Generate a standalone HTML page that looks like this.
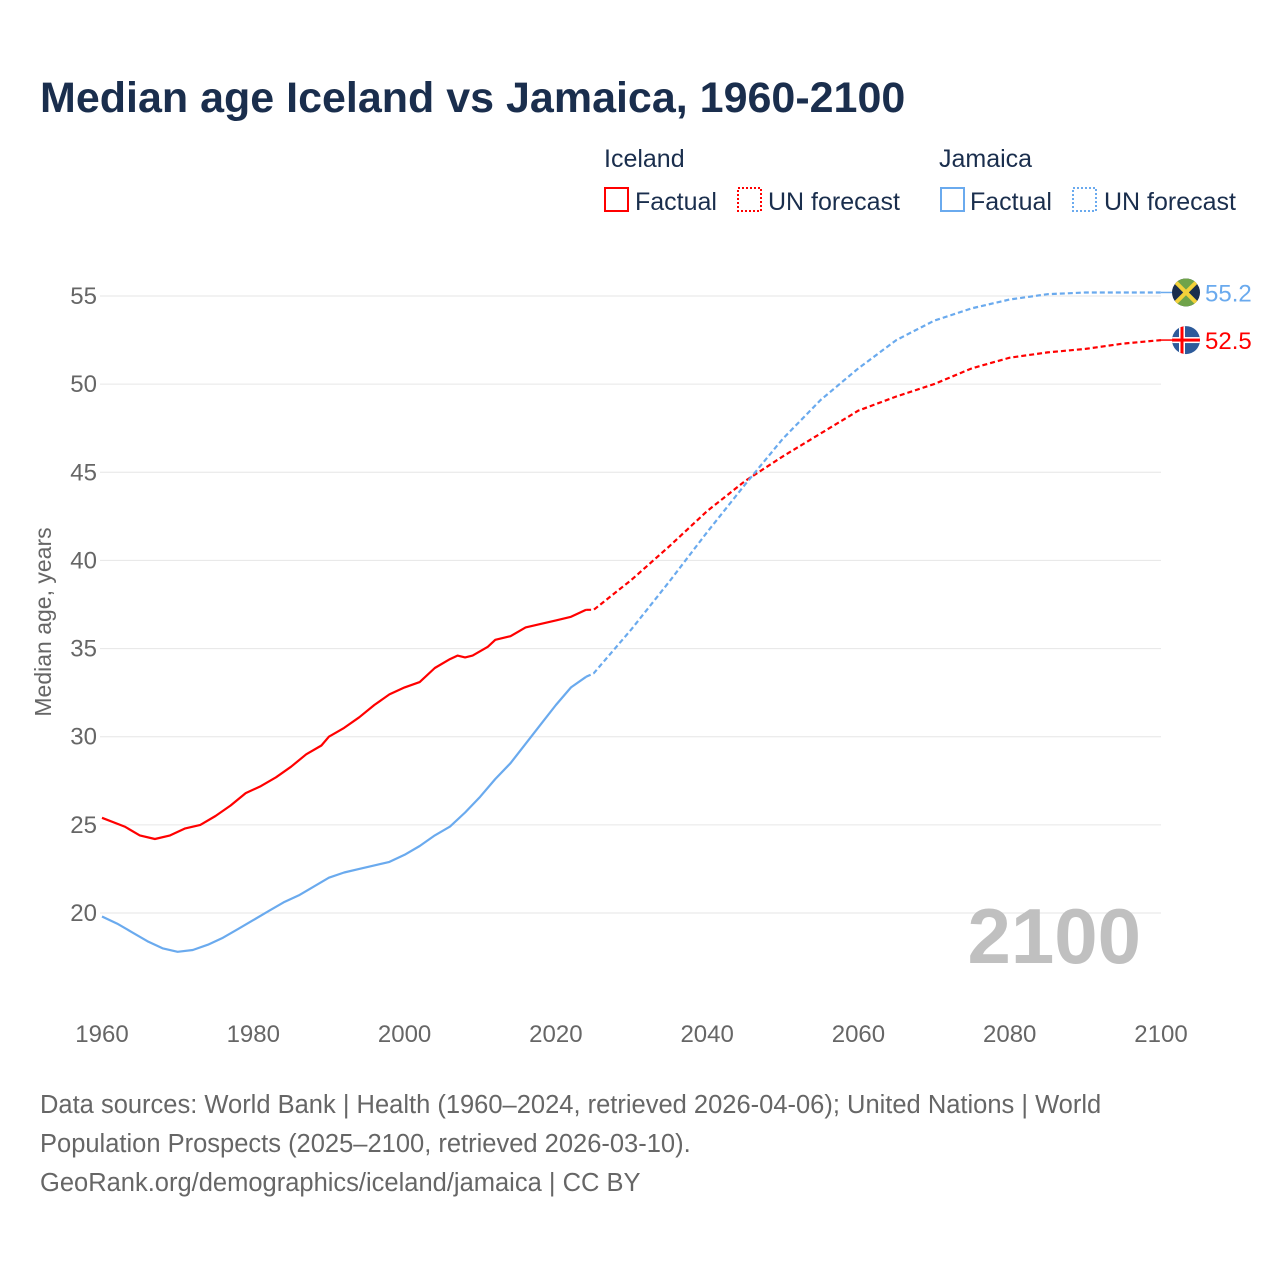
<!DOCTYPE html>
<html><head><meta charset="utf-8"><style>
body{margin:0;background:#fff;font-family:"Liberation Sans",sans-serif;}
#wrap{position:relative;width:1280px;height:1280px;overflow:hidden;}
</style></head><body>
<div id="wrap">
<svg id="svg" width="1280" height="1280" xmlns="http://www.w3.org/2000/svg">
<text x="40" y="112" font-size="43" font-weight="bold" fill="#1a2e4d">Median age Iceland vs Jamaica, 1960-2100</text>
<g font-size="25" fill="#1a2e4d">
<text x="604" y="167">Iceland</text>
<text x="939" y="167">Jamaica</text>
<g><rect x="605" y="188" width="23" height="23" fill="none" stroke="#ff0000" stroke-width="2"/><text x="635" y="210">Factual</text></g>
<g><rect x="738" y="188" width="23" height="23" fill="none" stroke="#ff0000" stroke-width="2" stroke-dasharray="2,2"/><text x="768" y="210">UN forecast</text></g>
<g><rect x="941" y="188" width="23" height="23" fill="none" stroke="#6aaaee" stroke-width="2"/><text x="970" y="210">Factual</text></g>
<g><rect x="1073" y="188" width="23" height="23" fill="none" stroke="#6aaaee" stroke-width="2" stroke-dasharray="2,2"/><text x="1104" y="210">UN forecast</text></g>
</g>
<g id="grid"></g><g id="lines"></g>
<text x="1141" y="963" font-size="78" font-weight="bold" fill="#c0c0c0" text-anchor="end">2100</text>
<text transform="translate(51,622) rotate(-90)" font-size="23" fill="#666" text-anchor="middle">Median age, years</text>
<g font-size="25.5" fill="#666">
<text x="40" y="1113">Data sources: World Bank | Health (1960–2024, retrieved 2026-04-06); United Nations | World</text>
<text x="40" y="1152">Population Prospects (2025–2100, retrieved 2026-03-10).</text>
<text x="40" y="1191">GeoRank.org/demographics/iceland/jamaica | CC BY</text>
</g>
</svg>
<script>
const yTicks=[20,25,30,35,40,45,50,55];
const xTicks=[1960,1980,2000,2020,2040,2060,2080,2100];
const iceFactYears=[1960,1963,1965,1967,1969,1971,1973,1975,1977,1979,1981,1983,1985,1987,1989,1990,1992,1994,1996,1998,2000,2002,2004,2006,2007,2008,2009,2011,2012,2014,2016,2018,2020,2022,2024];
const iceFactVals=[25.4,24.9,24.4,24.2,24.4,24.8,25.0,25.5,26.1,26.8,27.2,27.7,28.3,29.0,29.5,30.0,30.5,31.1,31.8,32.4,32.8,33.1,33.9,34.4,34.6,34.5,34.6,35.1,35.5,35.7,36.2,36.4,36.6,36.8,37.2];
const iceFcYears=[2024,2025,2030,2035,2040,2045,2050,2055,2060,2065,2070,2075,2080,2085,2090,2095,2100];
const iceFcVals=[37.2,37.2,38.9,40.8,42.8,44.5,45.9,47.2,48.5,49.3,50.0,50.9,51.5,51.8,52.0,52.3,52.5];
const jamFactYears=[1960,1962,1964,1966,1968,1970,1972,1974,1976,1978,1980,1982,1984,1986,1988,1990,1992,1994,1996,1998,2000,2002,2004,2006,2008,2010,2012,2014,2016,2018,2020,2022,2024];
const jamFactVals=[19.8,19.4,18.9,18.4,18.0,17.8,17.9,18.2,18.6,19.1,19.6,20.1,20.6,21.0,21.5,22.0,22.3,22.5,22.7,22.9,23.3,23.8,24.4,24.9,25.7,26.6,27.6,28.5,29.6,30.7,31.8,32.8,33.4];
const jamFcYears=[2024,2025,2030,2035,2040,2045,2050,2055,2060,2065,2070,2075,2080,2085,2090,2100];
const jamFcVals=[33.4,33.6,36.1,38.8,41.6,44.3,46.9,49.1,50.9,52.5,53.6,54.3,54.8,55.1,55.2,55.2];
const NS="http://www.w3.org/2000/svg";
const xS=y=>102+(y-1960)*(1059/140);
const yS=v=>913-(v-20)*(617/35);
const grid=document.getElementById('grid'),lines=document.getElementById('lines');
function mk(t,a,p){const e=document.createElementNS(NS,t);for(const k in a)e.setAttribute(k,a[k]);p.appendChild(e);return e;}
yTicks.forEach(v=>{
 const l=mk('line',{x1:100,x2:1161,y1:yS(v),y2:yS(v),stroke:'#e6e6e6','stroke-width':1},grid);
 
 
 const t=mk('text',{x:97,y:yS(v)+8,'text-anchor':'end','font-size':24,fill:'#666'},grid);t.textContent=v;
 
 
});
xTicks.forEach(v=>{
 const t=mk('text',{x:xS(v),y:1042,'text-anchor':'middle','font-size':24,fill:'#666'},grid);t.textContent=v;
 
 
});
function path(xs,vs,col,dash,name){
 const d=xs.map((x,i)=>(i?'L':'M')+xS(x).toFixed(1)+','+yS(vs[i]).toFixed(1)).join('');
 const p=mk('path',{d:d,fill:'none',stroke:col,'stroke-width':2.2,'stroke-linejoin':'round'},lines);
 if(dash)p.setAttribute('stroke-dasharray','5,3');
 
 
}
path(iceFactYears,iceFactVals,'#ff0000',false,'iceland-factual-line');
path(iceFcYears,iceFcVals,'#ff0000',true,'iceland-forecast-line');
path(jamFactYears,jamFactVals,'#6aaaee',false,'jamaica-factual-line');
path(jamFcYears,jamFcVals,'#6aaaee',true,'jamaica-forecast-line');
function endLbl(vs,col,name,flag){
 const v=vs[vs.length-1],y=yS(v);
 mk('line',{x1:1161,x2:1172,y1:y,y2:y,stroke:col,'stroke-width':1.5},lines);
 const g=mk('g',{},lines);
 
 
 flag(g,1186,y);
 const t=mk('text',{x:1205,y:y+9,'font-size':24,fill:col},lines);t.textContent=v.toFixed(1);
 
 
}
endLbl(jamFcVals,'#6aaaee','jamaica',(g,cx,cy)=>{
 mk('clipPath',{id:'cj'},g);mk('circle',{cx:cx,cy:cy,r:14},g.lastChild);
 const h=mk('g',{'clip-path':'url(#cj)'},g);
 mk('rect',{x:cx-15,y:cy-15,width:30,height:30,fill:'#1a2e4d'},h);
 mk('polygon',{points:`${cx-15},${cy-15} ${cx+15},${cy-15} ${cx},${cy}`,fill:'#6fa34a'},h);
 mk('polygon',{points:`${cx-15},${cy+15} ${cx+15},${cy+15} ${cx},${cy}`,fill:'#6fa34a'},h);
 mk('line',{x1:cx-15,y1:cy-15,x2:cx+15,y2:cy+15,stroke:'#f2d13a','stroke-width':4},h);
 mk('line',{x1:cx+15,y1:cy-15,x2:cx-15,y2:cy+15,stroke:'#f2d13a','stroke-width':4},h);
});
endLbl(iceFcVals,'#ff0000','iceland',(g,cx,cy)=>{
 mk('clipPath',{id:'ci'},g);mk('circle',{cx:cx,cy:cy,r:14},g.lastChild);
 const h=mk('g',{'clip-path':'url(#ci)'},g);
 mk('rect',{x:cx-15,y:cy-15,width:30,height:30,fill:'#2d5a9a'},h);
 mk('rect',{x:cx-7,y:cy-15,width:6,height:30,fill:'#fff'},h);
 mk('rect',{x:cx-15,y:cy-3,width:30,height:6,fill:'#fff'},h);
 mk('rect',{x:cx-5.5,y:cy-15,width:3,height:30,fill:'#ff0000'},h);
 mk('rect',{x:cx-15,y:cy-1.5,width:30,height:3,fill:'#ff0000'},h);
});
</script>
</div>
</body></html>
